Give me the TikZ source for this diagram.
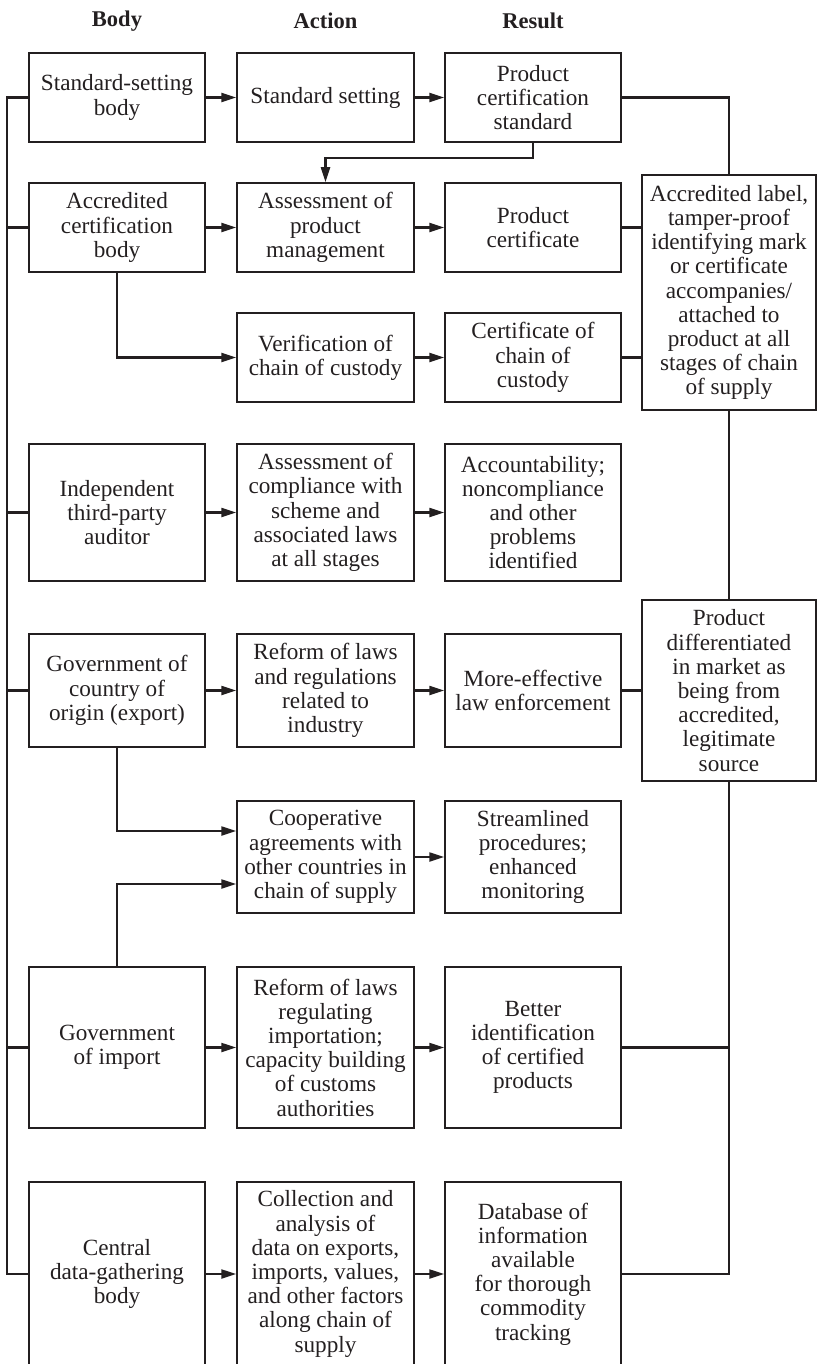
\documentclass[tikz,border=0pt]{standalone}
\usepackage{fontspec}
\setmainfont{Liberation Serif}
\usetikzlibrary{arrows.meta,calc}
\definecolor{ink}{HTML}{231F20}
\begin{document}
\begin{tikzpicture}[x=1pt,y=-1pt,
  box/.style={draw=ink,line width=1.5pt,text=ink,align=center,inner sep=0pt,
    font=\fontsize{23.2}{24.2}\selectfont},
  cA/.style={box,minimum width=176pt},
  cB/.style={box,minimum width=177pt},
  cC/.style={box,minimum width=176pt},
  cD/.style={box,minimum width=174pt},
  hdr/.style={text=ink,font=\fontsize{22.5}{24}\selectfont\bfseries},
  conn/.style={draw=ink,line width=2.2pt},
  arr/.style={conn,-{Triangle[length=15pt,width=9pt]}}]
\useasboundingbox (0,0) rectangle (817,1364);
\clip (0,0) rectangle (817,1364);
% headers
\node[hdr] (hbody) at (117,21) {Body};
\node[hdr] (hact) at (325.5,21) {Action};
\node[hdr] (hres) at (533,21) {Result};
% row 1
\node[cA,minimum height=89pt] (b1) at (117,97.5) {Standard-setting\\body};
\node[cB,minimum height=89pt] (a1) at (325.5,97.5) {Standard setting};
\node[cC,minimum height=89pt] (r1) at (533,97.5) {Product\\certification\\standard};
% row 2
\node[cA,minimum height=89pt] (b2) at (117,227.5) {Accredited\\certification\\body};
\node[cB,minimum height=89pt] (a2) at (325.5,227.5) {Assessment of\\product\\management};
\node[cC,minimum height=89pt] (r2) at (533,227.5) {Product\\certificate};
% row 3
\node[cB,minimum height=89pt] (a3) at (325.5,357.5) {Verification of\\chain of custody};
\node[cC,minimum height=89pt] (r3) at (533,357.5) {Certificate of\\chain of\\custody};
% right box A
\node[cD,minimum height=235pt] (RA) at (729,292.5) {Accredited label,\\tamper-proof\\identifying mark\\or certificate\\accompanies/\\attached to\\product at all\\stages of chain\\of supply};
% row 4
\node[cA,minimum height=137pt] (b4) at (117,512.5) {Independent\\third-party\\auditor};
\node[cB,minimum height=137pt] (a4) at (325.5,512.5) {Assessment of\\compliance with\\scheme and\\associated laws\\at all stages};
\node[cC,minimum height=137pt] (r4) at (533,512.5) {Accountability;\\noncompliance\\and other\\problems\\identified};
% row 5
\node[cA,minimum height=113pt] (b5) at (117,690.5) {Government of\\country of\\origin (export)};
\node[cB,minimum height=113pt] (a5) at (325.5,690.5) {Reform of laws\\and regulations\\related to\\industry};
\node[cC,minimum height=113pt] (r5) at (533,690.5) {More-effective\\law enforcement};
% right box B
\node[cD,minimum height=181pt] (RB) at (729,690.5) {Product\\differentiated\\in market as\\being from\\accredited,\\legitimate\\source};
% row 6
\node[cB,minimum height=112pt] (a6) at (325.5,857) {Cooperative\\agreements with\\other countries in\\chain of supply};
\node[cC,minimum height=112pt] (r6) at (533,857) {Streamlined\\procedures;\\enhanced\\monitoring};
% row 7
\node[cA,minimum height=161pt] (b7) at (117,1047.5) {Government\\of import};
\node[cB,minimum height=161pt] (a7) at (325.5,1047.5) {Reform of laws\\regulating\\importation;\\capacity building\\of customs\\authorities};
\node[cC,minimum height=161pt] (r7) at (533,1047.5) {Better\\identification\\of certified\\products};
% row 8
\node[cA,minimum height=184pt] (b8) at (117,1274) {Central\\data-gathering\\body};
\node[cB,minimum height=184pt] (a8) at (325.5,1274) {Collection and\\analysis of\\data on exports,\\imports, values,\\and other factors\\along chain of\\supply};
\node[cC,minimum height=184pt] (r8) at (533,1274) {Database of\\information\\available\\for thorough\\commodity\\tracking};
% left bus
\draw[conn] (b1.west) -- ++(-21.5,0) coordinate (L1) |- (b8.west);
\foreach \n in {b2,b4,b5,b7} \draw[conn] (\n.west) -- (\n.west -| L1);
% body -> action
\foreach \s/\t in {b1/a1,b2/a2,b4/a4,b5/a5,b7/a7,b8/a8} \draw[arr] (\s.east) -- (\t.west);
\draw[arr] (b2.south) |- (a3.west);
\draw[arr] (b5.south) |- ($(a6.west)+(0,-26)$);
\draw[arr] (b7.north) |- ($(a6.west)+(0,27)$);
% action -> result
\foreach \s/\t in {a1/r1,a2/r2,a3/r3,a4/r4,a5/r5,a6/r6,a7/r7,a8/r8} \draw[arr] (\s.east) -- (\t.west);
\draw[arr] (r1.south) -- ++(0,15) -| (a2.north);
% result -> right boxes
\draw[conn] (r1.east) -| (RA.north);
\draw[conn] (r2.east) -- (r2.east -| RA.west);
\draw[conn] (r3.east) -- (r3.east -| RA.west);
\draw[conn] (RA.south) -- (RB.north);
\draw[conn] (r5.east) -- (RB.west);
\draw[conn] (RB.south) |- (r8.east);
\draw[conn] (r7.east) -- (r7.east -| RB.south);
\end{tikzpicture}
\end{document}
